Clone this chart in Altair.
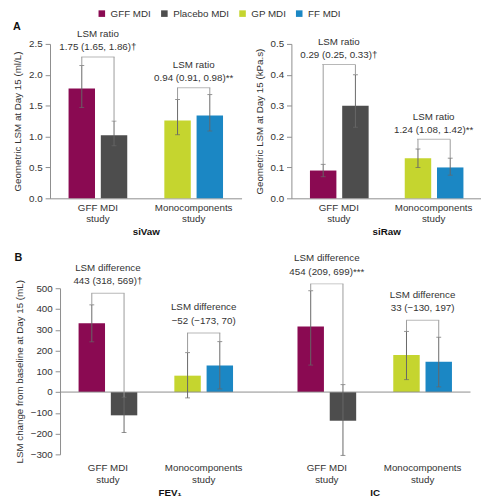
import altair as alt
import pandas as pd

treatments = ["GFF MDI", "Placebo MDI", "GP MDI", "FF MDI"]
colors = ["#8A0A52", "#4D4D4D", "#C5D52F", "#1B87C4"]
studies = ["GFF MDI study", "Monocomponents study"]
slots = ["L", "R"]

# Panel A - siVaw
vaw_mean = [1.78, 1.02, 1.26, 1.34]
vaw_lo = [1.47, 0.85, 1.03, 1.09]
vaw_hi = [2.15, 1.25, 1.60, 1.68]
vaw_bracket = [2.29, 1.79]
vaw_value = ["1.75 (1.65, 1.86)\u2020", "0.94 (0.91, 0.98)**"]

# Panel A - siRaw
raw_mean = [0.09, 0.30, 0.13, 0.10]
raw_lo = [0.07, 0.23, 0.10, 0.075]
raw_hi = [0.11, 0.40, 0.16, 0.13]
raw_bracket = [0.433, 0.191]
raw_value = ["0.29 (0.25, 0.33)\u2020", "1.24 (1.08, 1.42)**"]

# Panel B - FEV1
fev_mean = [332, -112, 79, 128]
fev_lo = [242, -195, -28, 15]
fev_hi = [420, -25, 190, 243]
fev_bracket = [476, 285]
fev_value = ["443 (318, 569)\u2020", "\u221252 (\u2212173, 70)"]

# Panel B - IC
ic_mean = [316, -138, 178, 146]
ic_lo = [130, -305, 60, 25]
ic_hi = [488, 36, 292, 264]
ic_bracket = [521, 346]
ic_value = ["454 (209, 699)***", "33 (\u2212130, 197)"]

ratio_label = "LSM ratio"
diff_label = "LSM difference"

vaw_ticks = [0.0, 0.5, 1.0, 1.5, 2.0, 2.5]
raw_ticks = [0.0, 0.1, 0.2, 0.3, 0.4, 0.5]
b_ticks = [-300, -200, -100, 0, 100, 200, 300, 400, 500]

FONT = "Liberation Sans"
TXT = "#333333"
AX = "#8c8c8c"
GAP = "\u2003" * 16 + "\u2002"


def bar_frame(mean, lo, hi):
    rows = []
    for i, t in enumerate(treatments):
        rows.append({"study": studies[i // 2], "slot": slots[i % 2],
                     "treatment": t, "mean": mean[i], "lo": lo[i], "hi": hi[i]})
    return pd.DataFrame(rows)


def bracket_frames(hi, level, values, label):
    drops, tops = [], []
    for s, st in enumerate(studies):
        for k in range(2):
            drops.append({"study": st, "slot": slots[k], "y": level[s], "y2": hi[2 * s + k]})
        tops.append({"study": st, "level": level[s], "value": values[s], "label": label})
    return pd.DataFrame(drops), pd.DataFrame(tops)


def panel(mean, lo, hi, level, values, label, domain, ticks, fmt, ytitle, xtitle,
          width, height, show_y=True, bottom_style=False, x_pad_outer=0.0, title=None,
          title_offset=0, text_dy=(-10, -23)):
    bars = bar_frame(mean, lo, hi)
    drops, tops = bracket_frames(hi, level, values, label)
    xscale = alt.Scale(domain=studies, paddingInner=0, paddingOuter=x_pad_outer, align=0)
    xoff = alt.XOffset("slot:N", scale=alt.Scale(domain=slots, paddingInner=0.18, paddingOuter=0.575))
    xaxis = alt.Axis(
        title=xtitle, labelAngle=0, ticks=False, domain=not bottom_style,
        domainColor=AX, labelFont=FONT, labelFontSize=10, labelColor=TXT,
        labelExpr="[replace(datum.label, ' study', ''), 'study']",
        labelLineHeight=12, labelPadding=9 if bottom_style else 4,
        titleFont=FONT, titleFontSize=10, titleFontWeight="bold", titleColor="#111",
        titlePadding=3,
    )
    yscale = alt.Scale(domain=domain, nice=False, zero=False)
    if show_y:
        yaxis = alt.Axis(
            title=ytitle, values=ticks, format=fmt, grid=False, tickSize=5,
            tickColor=AX, domainColor=AX, labelFont=FONT, labelFontSize=10,
            labelColor=TXT, labelPadding=3, titleFont=FONT, titleFontSize=10,
            titleFontWeight="normal", titleColor=TXT, titlePadding=6,
            labelOverlap=False,
        )
    else:
        yaxis = None

    def Y(field):
        return alt.Y(field, scale=yscale, axis=yaxis)

    x_enc = alt.X("study:N", scale=xscale, axis=xaxis)

    color = alt.Color(
        "treatment:N",
        scale=alt.Scale(domain=treatments, range=colors),
        legend=alt.Legend(
            title=None, orient="none", direction="horizontal", columns=4,
            legendX=48, legendY=-36, symbolType="square", symbolSize=45,
            symbolStrokeWidth=0, labelFont=FONT, labelFontSize=10,
            labelColor=TXT, columnPadding=8, padding=0, labelLimit=300,
            labelExpr="datum.label == 'Placebo MDI' ? 'Placebo MDI" + GAP + "' : datum.label",
        ),
    )

    base = alt.Chart(bars)
    bar_layer = base.mark_bar().encode(
        x=x_enc, xOffset=xoff, y=Y("mean:Q"), color=color,
    )
    err = base.mark_rule(color="#666666", strokeWidth=1).encode(
        x=x_enc, xOffset=xoff, y=Y("lo:Q"), y2="hi:Q")
    cap_hi = base.mark_tick(orient="horizontal", size=5, thickness=1, color="#666666").encode(
        x=x_enc, xOffset=xoff, y=Y("hi:Q"))
    cap_lo = base.mark_tick(orient="horizontal", size=5, thickness=1, color="#666666").encode(
        x=x_enc, xOffset=xoff, y=Y("lo:Q"))
    drop = alt.Chart(drops).mark_rule(color="#9a9a9a", strokeWidth=1).encode(
        x=x_enc, xOffset=xoff, y=Y("y:Q"), y2="y2:Q")
    hline = alt.Chart(tops).mark_tick(orient="horizontal", size=34, thickness=1, color="#9a9a9a").encode(
        x=x_enc, y=Y("level:Q"))
    t_val = alt.Chart(tops).mark_text(dy=text_dy[0], font=FONT, fontSize=10, color=TXT).encode(
        x=x_enc, y=Y("level:Q"), text="value:N")
    t_lab = alt.Chart(tops).mark_text(dy=text_dy[1], font=FONT, fontSize=10, color=TXT).encode(
        x=x_enc, y=Y("level:Q"), text="label:N")
    layers = [bar_layer]
    if bottom_style:
        zero = alt.Chart(pd.DataFrame({"z": [0]})).mark_rule(color=AX, strokeWidth=1).encode(y=Y("z:Q"))
        layers.append(zero)
    layers += [err, cap_hi, cap_lo, drop, hline, t_val, t_lab]
    props = dict(width=width, height=height)
    if title is not None:
        props["title"] = alt.TitleParams(title, anchor="start", frame="bounds", fontSize=11,
                                         fontWeight="bold", font=FONT, color="#111",
                                         offset=title_offset)
    return alt.layer(*layers).properties(**props)


p_vaw = panel(vaw_mean, vaw_lo, vaw_hi, vaw_bracket, vaw_value, ratio_label, [0, 2.5], vaw_ticks,
              ".1f", "Geometric LSM at Day 15 (ml/L)", "siVaw", 196, 158, title="A",
              title_offset=-2)
p_raw = panel(raw_mean, raw_lo, raw_hi, raw_bracket, raw_value, ratio_label, [0, 0.5], raw_ticks,
              ".1f", "Geometric LSM at Day 15 (kPa.s)", "siRaw", 194, 158)
p_fev = panel(fev_mean, fev_lo, fev_hi, fev_bracket, fev_value, diff_label, [-300, 500], b_ticks,
              "d", "LSM change from baseline at Day 15 (mL)", "FEV\u2081", 224, 170,
              bottom_style=True, x_pad_outer=0.143, title="B", title_offset=0,
              text_dy=(-12, -26))
p_ic = panel(ic_mean, ic_lo, ic_hi, ic_bracket, ic_value, diff_label, [-300, 500], b_ticks,
             "d", "", "IC", 196, 170, show_y=False, bottom_style=True, text_dy=(-12, -26))

top = alt.hconcat(p_vaw, p_raw, spacing=51, bounds="flush")
bottom = alt.hconcat(p_fev, p_ic, spacing=0, bounds="flush")

chart = alt.vconcat(top, bottom, spacing=16, center=True).resolve_scale(
    color="shared").configure_view(stroke=None).properties(
    padding={"left": 5, "top": -5, "right": 0, "bottom": 0})

chart.save("out.html", embed_options={"renderer": "svg", "actions": False})
